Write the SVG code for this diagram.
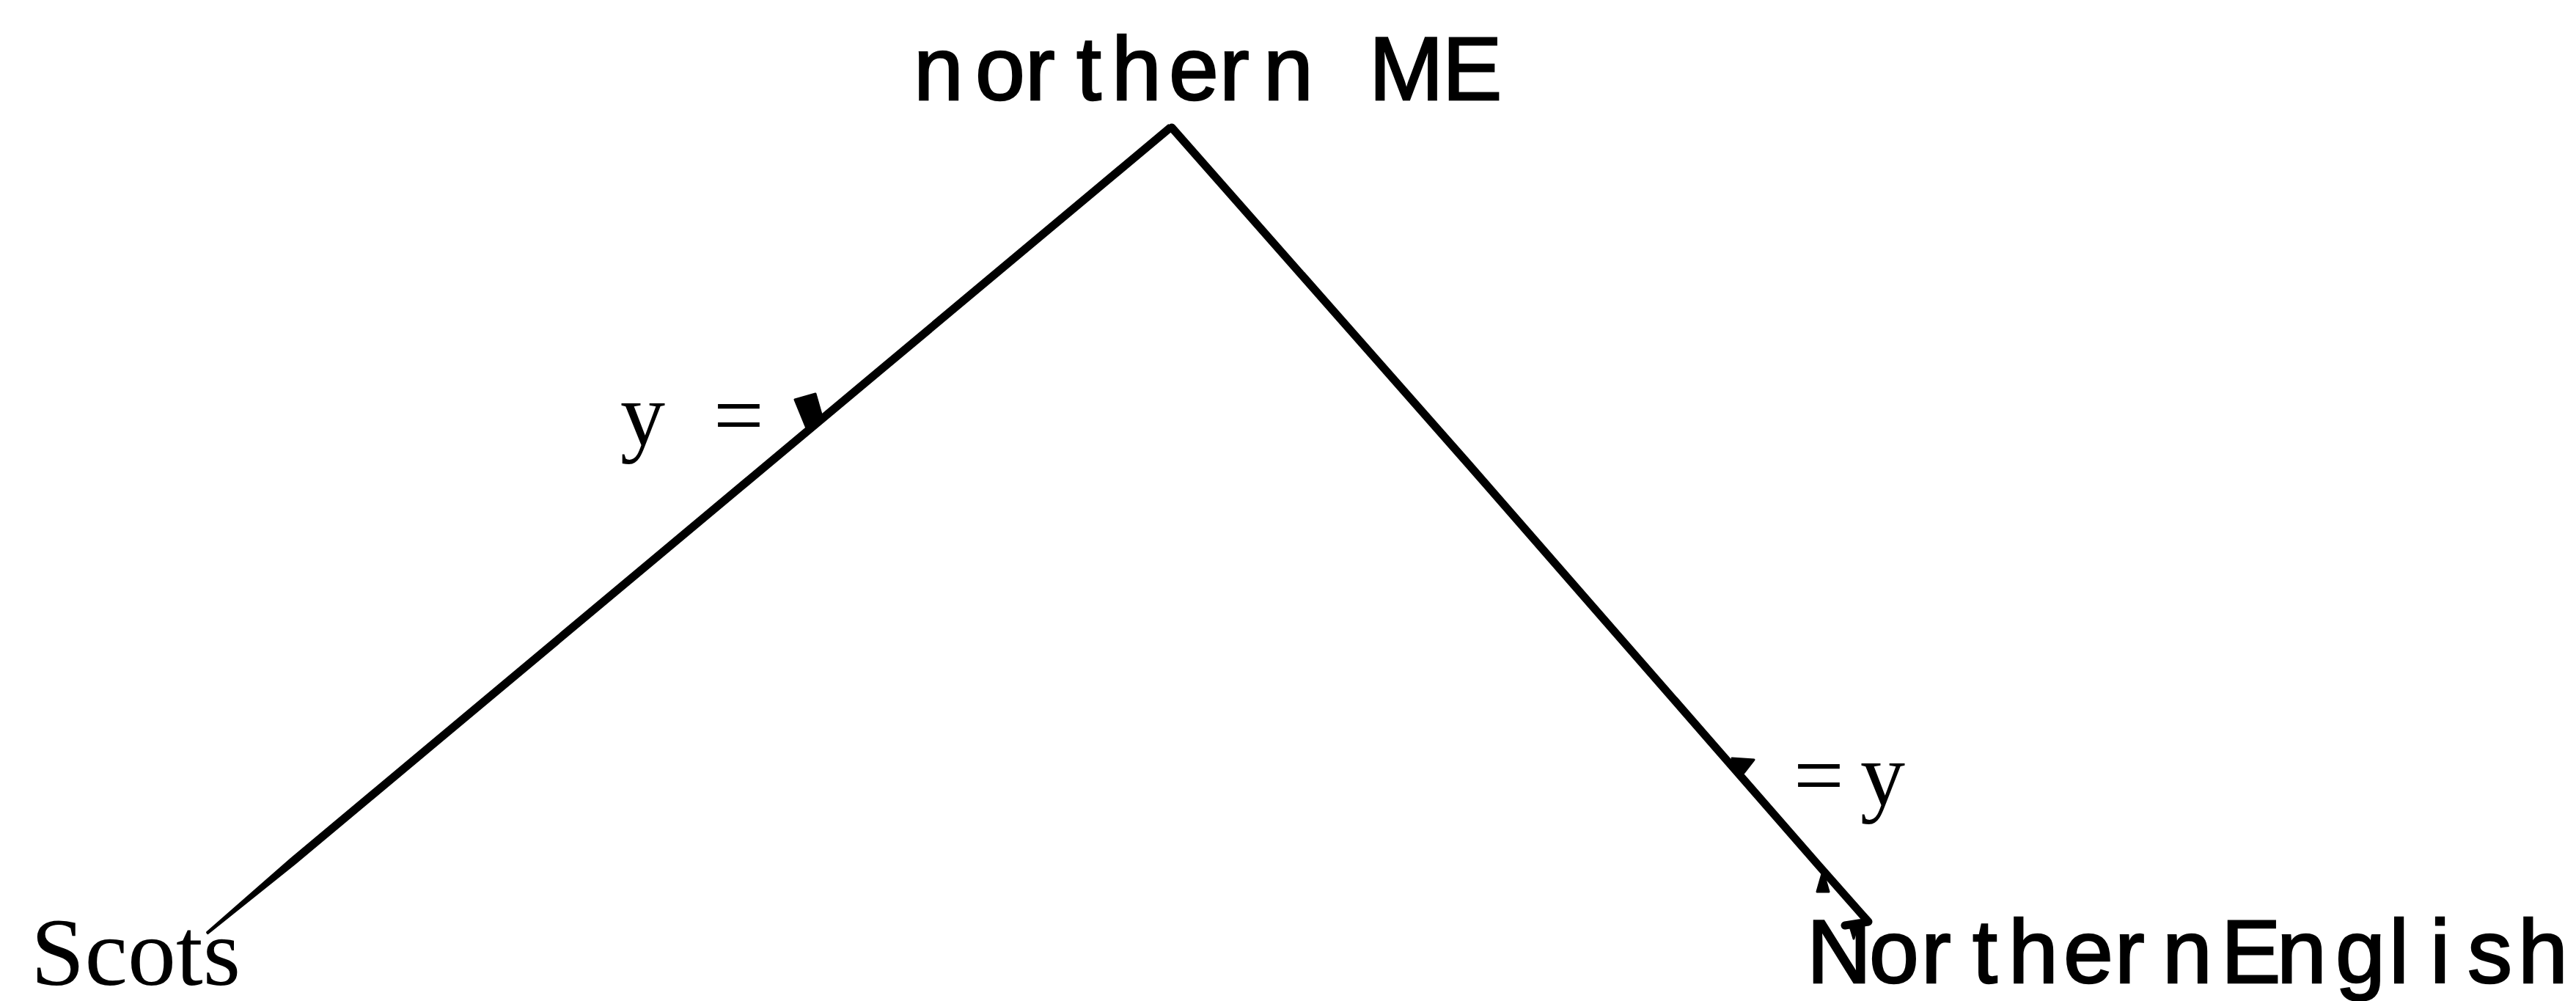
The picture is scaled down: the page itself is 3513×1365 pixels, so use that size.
<svg xmlns="http://www.w3.org/2000/svg" width="3513" height="1365" viewBox="0 0 3513 1365">
<style>
.sans{font-family:"Liberation Sans",Arial,sans-serif;font-size:122px;fill:#000;stroke:#000;stroke-width:2.5}
.serif{font-family:"Liberation Serif","Times New Roman",serif;fill:#000}
.edge{stroke:#000;stroke-width:11;fill:none;stroke-linecap:round;stroke-linejoin:round}
.tick{fill:#000;stroke:#000;stroke-width:3;stroke-linejoin:round}
</style>
<rect width="3513" height="1365" fill="#fff"/>
<g id="connectors">
<g id="edge-scots">
<polygon class="tick" points="1593.4,170.9 1598.6,177.1 402.6,1177.1 283.4,1272.6 282.6,1271.4 397.4,1170.9"/>
<polygon class="tick" points="1084,545 1112,537 1122,572 1100,584"/>
<text class="serif" font-size="122" x="846 919 973" y="607">y =</text>
</g>
<g id="edge-northernenglish">
<polyline class="edge" points="1598,174 2000,630 2480,1180 2548,1257 2516,1262"/>
<polygon class="tick" points="2362,1034 2392,1036 2378,1054 2366,1052"/>
<polygon class="tick" points="2486,1188 2478,1216 2494,1216"/>
<polygon class="tick" points="2522,1260 2534,1260 2528,1280"/>
<text class="serif" font-size="122" x="2446 2500 2537" y="1098">= y</text>
</g>
</g>
<g id="node-northern-me">
<text class="sans" x="1246 1330 1398 1468 1516 1594 1663 1723 1800 1867 1967" y="136">northern ME</text>
</g>
<g id="node-scots">
<text class="serif" font-size="132" x="42" y="1343">Scots</text>
</g>
<g id="node-northernenglish">
<text class="sans" font-size="116" x="2464 2549 2620 2690 2739 2814 2884 2949 3029 3105 3185 3258 3314 3365 3434" y="1340">NorthernEnglish</text>
</g>
</svg>
